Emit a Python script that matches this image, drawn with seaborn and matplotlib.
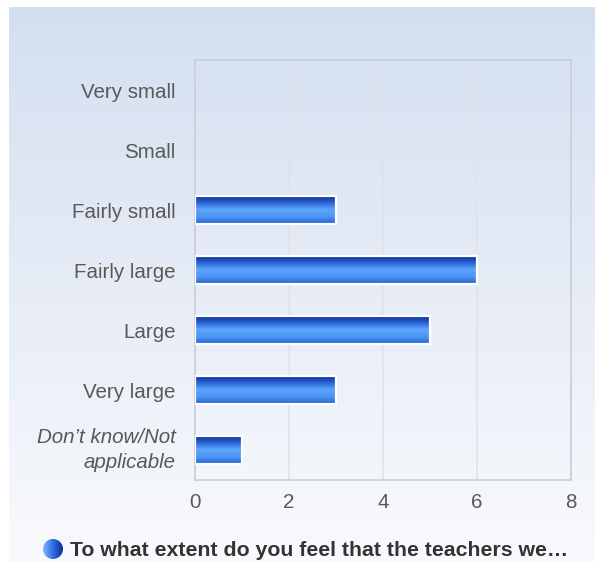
import numpy as np
import pandas as pd
import matplotlib
matplotlib.use("Agg")
import matplotlib.pyplot as plt
import seaborn as sns
from matplotlib.colors import LinearSegmentedColormap
from matplotlib.patches import Circle, Rectangle

# Data
categories = ["Very small", "Small", "Fairly small", "Fairly large",
              "Large", "Very large", "Don\u2019t know/Not\napplicable"]
counts = [0, 0, 3, 6, 5, 3, 1]
x_ticks = [0, 2, 4, 6, 8]
legend_label = "To what extent do you feel that the teachers we\u2026"

df = pd.DataFrame({"category": categories, "count": counts})

sns.set_theme(style="white")
plt.rcParams["font.family"] = ["Liberation Sans", "DejaVu Sans"]

fig = plt.figure(figsize=(5.95, 5.62), dpi=100)
fig.patch.set_facecolor("white")

# background panel with vertical gradient
bg_ax = fig.add_axes([0, 0, 1, 1], zorder=-10)
bg_ax.set_xlim(0, 595)
bg_ax.set_ylim(562, 0)
bg_ax.axis("off")
bg_cmap = LinearSegmentedColormap.from_list("bg", ["#d3dff0", "#e6ecf6", "#f9fafd"])
grad = np.linspace(0, 1, 256).reshape(-1, 1)
bg_ax.imshow(grad, cmap=bg_cmap, aspect="auto", extent=[9, 595, 562, 7])

ax = fig.add_axes([195 / 595, 1 - 480 / 562, 376 / 595, 420 / 562])
ax.patch.set_alpha(0)

sns.barplot(data=df, x="count", y="category", orient="h", width=0.47,
            color="#1f4fbf", ax=ax)

bar_cmap = LinearSegmentedColormap.from_list(
    "bar", ["#08288a", "#2a5fd0", "#5aa6ff", "#4c95f4", "#2462d0"])
bar_grad = np.linspace(0, 1, 256).reshape(-1, 1)
for p in ax.patches:
    w = p.get_width()
    p.set_facecolor("none")
    p.set_edgecolor("none")
    if w <= 0:
        continue
    x0, y0, h = p.get_x(), p.get_y(), p.get_height()
    im = ax.imshow(bar_grad, cmap=bar_cmap, aspect="auto",
                   extent=[x0, x0 + w, y0 + h, y0], zorder=3)
    clip = Rectangle((x0, y0), w, h, transform=ax.transData,
                     facecolor="none", edgecolor="white", lw=1.6, zorder=4)
    ax.add_patch(clip)
    im.set_clip_path(clip)

ax.set_xlim(0, 8)
ax.set_ylim(6.5, -0.5)
ax.set_xticks(x_ticks)
ax.set_xlabel("")
ax.set_ylabel("")
ax.grid(axis="x", color="#dfe3ea", lw=1.2)
ax.set_axisbelow(True)
for s in ax.spines.values():
    s.set_color("#c9ced8")
    s.set_linewidth(1.2)
ax.tick_params(axis="y", length=0, pad=14, labelsize=14.8, labelcolor="#595959")
ax.tick_params(axis="x", length=0, pad=9, labelsize=14.8, labelcolor="#595959")
last = ax.get_yticklabels()[6]
last.set_style("italic")
last.set_linespacing(1.38)
last.set_verticalalignment("center")

# legend at bottom
leg_ax = fig.add_axes([0, 0, 1, 1], zorder=5)
leg_ax.set_xlim(0, 595)
leg_ax.set_ylim(562, 0)
leg_ax.axis("off")
dot_cmap = LinearSegmentedColormap.from_list("dot", ["#7fb8ff", "#2f6fe0", "#0a2f96"])
dot = Circle((53, 549), 10, facecolor="none", edgecolor="none")
leg_ax.add_patch(dot)
dim = leg_ax.imshow(np.linspace(0, 1, 256).reshape(1, -1), cmap=dot_cmap,
                    aspect="auto", extent=[43, 63, 559, 539])
dim.set_clip_path(dot)
leg_ax.text(70, 550, legend_label, fontsize=15.3, fontweight="bold",
            color="#333333", va="center", ha="left")

fig.savefig("out.png", dpi=100)
